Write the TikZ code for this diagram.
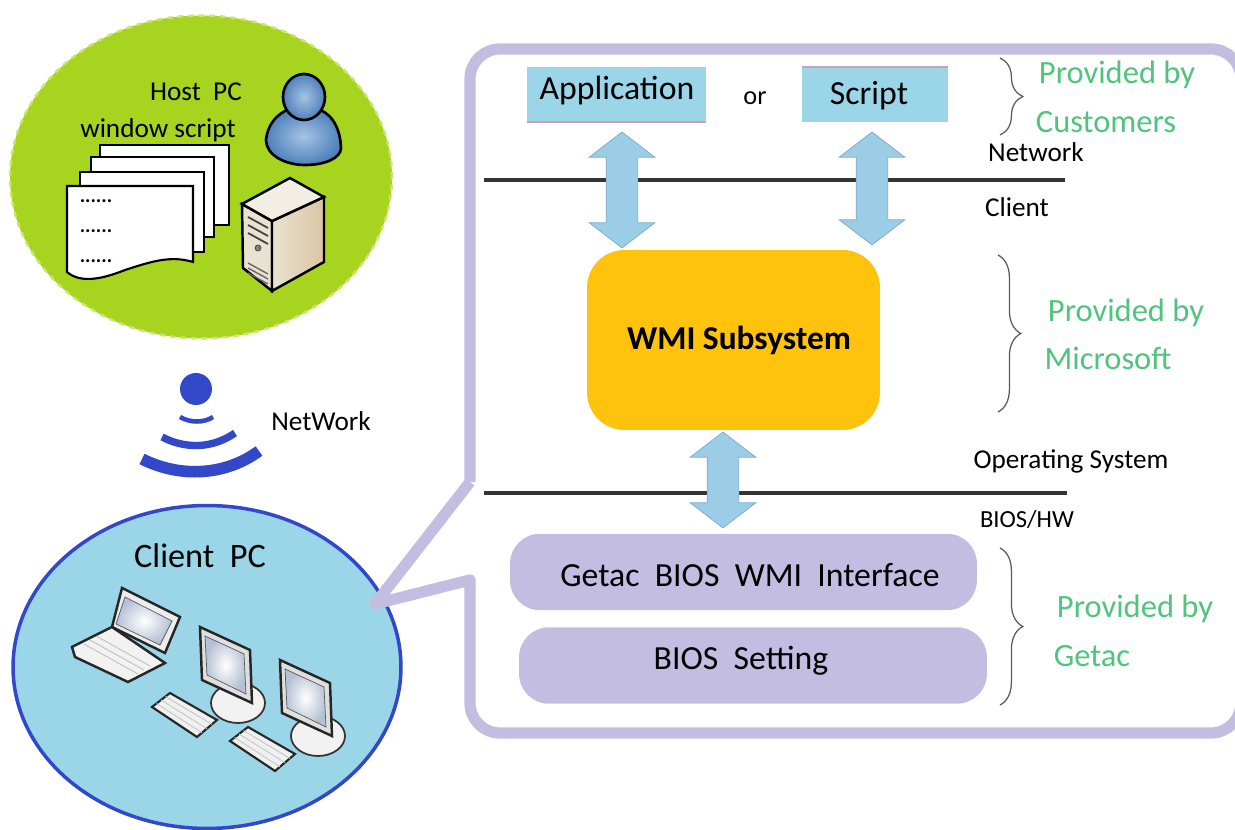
\documentclass[tikz,border=0pt]{standalone}
\usepackage{fontspec}
\setmainfont{Carlito}
\usepackage{xcolor}
\usetikzlibrary{shapes.geometric, shapes.arrows, decorations.pathreplacing}

\definecolor{hostgreen}{HTML}{A6D41F}
\definecolor{hostedge}{HTML}{CBE56E}
\definecolor{clientblue}{HTML}{9AD6E8}
\definecolor{clientedge}{HTML}{3348C8}
\definecolor{framelilac}{HTML}{C3BDE2}
\definecolor{boxblue}{HTML}{9BD5E8}
\definecolor{arrowblue}{HTML}{9CCDE6}
\definecolor{arrowedge}{HTML}{7FA9C6}
\definecolor{wmiyellow}{HTML}{FFC30D}
\definecolor{giventext}{HTML}{50C47C}
\definecolor{pinkrule}{HTML}{C9A0B4}
\definecolor{cream}{HTML}{E9E2D0}
\definecolor{userlight}{HTML}{A5C3E2}
\definecolor{userdark}{HTML}{4F81BD}
\definecolor{screenedge}{HTML}{B4C0D4}

\tikzset{
    monitor/.pic={
        \draw[black!80, line width=1pt, fill=gray!10] (38,76) ellipse (27 and 20);
        \draw[black!85, line width=1.4pt, fill=gray!25] (0,0) -- (50,23) -- (52,76) -- (2,53) -- cycle;
        \draw[gray!70!black, inner color=white, outer color=screenedge] (5,9) -- (44,27) -- (46,67) -- (7,48) -- cycle;
    },
    keyboard/.pic={
        \draw[black!85, line width=1.2pt, fill=gray!12] (0,0) -- (47,27) -- (27,44) -- (-18,14) -- cycle;
        \foreach \k in {1,2,3}
            \draw[gray!45, line width=.5pt] ({-18+4.5*\k},{14-3.5*\k}) -- ({27+5*\k},{44-4.2*\k});
    }
}

\begin{document}
\begin{tikzpicture}[
    x=0.02cm, y=-0.02cm,
    blob/.style={ellipse, inner sep=0pt},
    tinybox/.style={rectangle, inner sep=0pt, fill=boxblue, minimum height=1.1cm},
    biosbox/.style={rectangle, inner sep=0pt, fill=framelilac, rounded corners=.6cm, minimum height=1.53cm},
    bothways/.style={double arrow, draw=arrowedge, fill=arrowblue, inner xsep=0pt, inner ysep=.31cm, rotate=90,
        double arrow head extend=.34cm, double arrow tip angle=105},
    layerline/.style={line width=2.8pt, black!80},
    tinytext/.style={font=\fontsize{15.5}{18}\selectfont},
    boxtext/.style={font=\fontsize{19.2}{22}\selectfont},
    given/.style={text=giventext, font=\fontsize{18.5}{20}\selectfont},
    bracket/.style={gray!70!black, line width=.7pt, decorate, decoration={brace, amplitude=13pt}}
    ]
\useasboundingbox (0,0) rectangle (1235,830);

% the two PCs
\node[blob, fill=hostgreen, draw=hostedge, dashed, line width=1.4pt, minimum width=7.64cm, minimum height=6.46cm] (host) at (201,177) {};
\node[blob, fill=clientblue, draw=clientedge, line width=2pt, minimum width=7.76cm, minimum height=6.46cm] (client) at (207,667) {};

\node[font=\fontsize{15.5}{18}\selectfont] (hosttxt) at (196,92) {Host\ \ PC};
\node[font=\fontsize{15.5}{18}\selectfont] (scripttxt) at (158,130) {window script};
\node[font=\fontsize{19.5}{22}\selectfont] (clienttxt) at (200,556) {Client\ \ PC};
\node[tinytext] (nettxt) at (321,421) {NetWork};

% script pages
\draw[black, line width=1.2pt, fill=white] (100,145) rectangle (229,225);
\draw[black, line width=1.2pt, fill=white] (91,157) rectangle (214,237);
\draw[black, line width=1.2pt, fill=white] (80,172) rectangle (204,252);
\draw[black, line width=1.2pt, fill=white] (67,186) -- (193,186) -- (193,262) .. controls (170,255) and (150,262) .. (125,270) .. controls (100,280) and (80,283) .. (67,272) -- cycle;
\foreach \d/\n in {205/a, 235/b, 265/c}
    \node[font=\bfseries\fontsize{11.5}{12}\selectfont] (dots\n) at (96,\d-4) {......};

% user
\draw[black, line width=1.5pt, inner color=userlight, outer color=userdark] (266,140) .. controls (268,120) and (283,110) .. (293,108) -- (315,108) .. controls (330,112) and (340,125) .. (341,148) .. controls (341,158) and (325,165) .. (305,165) .. controls (285,165) and (266,155) .. (266,140) -- cycle;
\draw[black, line width=1.5pt, inner color=userlight, outer color=userdark] (304,97) ellipse (21 and 23);

% tower
\draw[black, line width=1.4pt, fill=cream] (242,204) -- (272,221) -- (272,291) -- (243,268) -- cycle;
\draw[black, line width=1.4pt, left color=cream, right color=cream!70!brown] (272,221) -- (324,197) -- (324,262) -- (272,291) -- cycle;
\draw[black, line width=1.4pt, fill=cream!60!white] (242,204) -- (290,178) -- (324,197) -- (272,221) -- cycle;
\foreach \t in {0,8,16}
    \draw[black!75, line width=1pt] (248,{217+\t}) -- (268,{228+\t});
\draw[black!75, fill=gray] (258,248) circle (3);
\foreach \t in {0,5,10}
    \draw[black!60, line width=.8pt] (248,{263+\t}) -- (268,{274+\t});

% laptop
\draw[black!85, line width=1.4pt, fill=gray!15] (122,588) -- (180,617) -- (165,653) -- (112,627) -- cycle;
\draw[gray!70!black, inner color=white, outer color=screenedge] (125,597) -- (172,621) -- (160,645) -- (116,624) -- cycle;
\draw[black!85, line width=1.4pt, fill=white!90!gray] (72,647) -- (112,627) -- (165,663) -- (128,682) -- (75,657) -- cycle;
\foreach \k in {1,2,3}
    \draw[gray!50, line width=.5pt] ({78+6*\k},{648-4*\k}) -- ({132+6*\k},{678-4*\k});

% desktops
\pic at (200,627) {monitor};
\pic at (280,660) {monitor};
\pic at (170,693) {keyboard};
\pic at (248,727) {keyboard};

% wireless mark
\node[circle, fill=clientedge, inner sep=0pt, minimum size=.64cm] (dot) at (196,389) {};
\draw[clientedge, line width=2.6pt] (180,417) .. controls (190,423) and (204,423) .. (213,417);
\draw[clientedge, line width=4.2pt] (162,437) .. controls (185,449) and (212,449) .. (235,433);
\draw[clientedge, line width=6.6pt] (142,459) .. controls (180,478) and (225,476) .. (259,451);

% callout frame
\draw[framelilac, line width=6.4pt, line join=round] (470,482) -- (375,604) -- (470,580) [rounded corners=.6cm] -- (470,733) -- (1241,733) -- (1241,49) -- (470,49) -- (470,482);

% layers
\coordinate (netleft) at (484,180);
\coordinate (netright) at (1065,180);
\coordinate (osleft) at (484,493);
\coordinate (osright) at (1067,493);
\draw[layerline] (netleft) -- (netright);
\draw[layerline] (osleft) -- (osright);

\node[tinybox, minimum width=3.58cm] (app) at (616.5,94.5) {};
\node[boxtext] (apptxt) at (617,91) {Application};
\node[tinybox, minimum width=2.92cm] (script) at (875,94.5) {};
\node[boxtext] (scriptname) at (869,96) {Script};
\draw[pinkrule, line width=1pt] (app.south west) -- (app.south east);
\draw[pinkrule, line width=1pt] (script.north west) -- (script.north east);
\node[font=\fontsize{15}{18}\selectfont] (ortxt) at (755,98) {or};

\node[rectangle, fill=wmiyellow, inner sep=0pt, rounded corners=.75cm, minimum width=5.86cm, minimum height=3.6cm] (wmi) at (733.5,340) {};
\node[font=\fontsize{19}{22}\selectfont\bfseries] (wmitxt) at (739,340) {WMI Subsystem};

\node[biosbox, minimum width=9.34cm] (iface) at (743.5,572) {};
\node[boxtext] (ifacetxt) at (750,575) {Getac\ \ BIOS\ \ WMI\ \ Interface};
\node[biosbox, minimum width=9.36cm] (setting) at (753,665.5) {};
\node[boxtext] (settingtxt) at (741,661) {BIOS\ \ Setting};

\node[bothways, minimum height=2.32cm] (appwmi) at (622,190) {};
\node[bothways, minimum height=2.26cm] (scriptwmi) at (872,188.5) {};
\node[bothways, minimum height=1.92cm] (wmiface) at (723,480) {};

\node[tinytext] (nettop) at (1036,152) {Network};
\node[tinytext] (netbot) at (1017,207) {Client};
\node[tinytext] (ostop) at (1071,461) {Operating System};
\node[font=\fontsize{14}{16}\selectfont] (osbot) at (1027,519) {BIOS/HW};

% who provides what
\coordinate (topA) at (1000,58);
\coordinate (botA) at (1000,135);
\coordinate (topB) at (998,255);
\coordinate (botB) at (998,412);
\coordinate (topC) at (1000,548);
\coordinate (botC) at (1000,705);
\draw[bracket] (topA) -- (botA);
\draw[bracket] (topB) -- (botB);
\draw[bracket] (topC) -- (botC);

\node[given] (custA) at (1117,75) {Provided by};
\node[given] (custB) at (1106,122) {Customers};
\node[given] (msA) at (1126,313) {Provided by};
\node[given] (msB) at (1108,358) {Microsoft};
\node[given] (getacA) at (1135,609) {Provided by};
\node[given] (getacB) at (1092,656) {Getac};
\end{tikzpicture}
\end{document}
